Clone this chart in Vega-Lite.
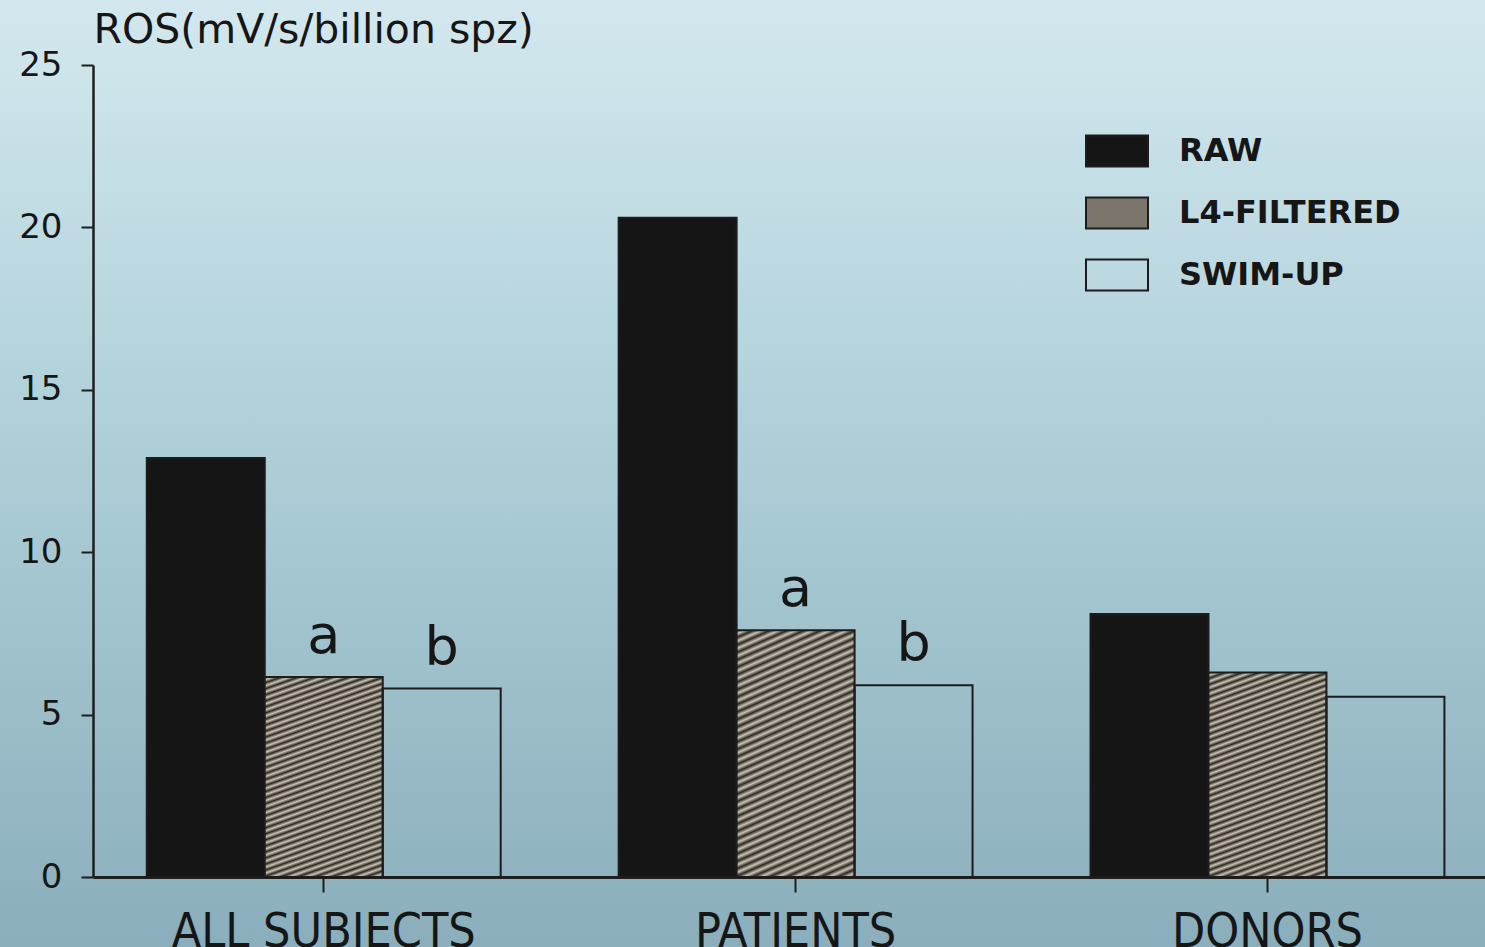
{
  "$schema": "https://vega.github.io/schema/vega-lite/v6.json",
  "width": 1485,
  "height": 947,
  "autosize": {"type": "none"},
  "padding": 0,
  "background": "#a9cad4",
  "view": {
    "fill": {"gradient": "linear", "x1": 0, "y1": 0, "x2": 0, "y2": 1, "stops": [
      {"offset": 0, "color": "#d3e8ee"},
      {"offset": 0.45, "color": "#afd0d9"},
      {"offset": 1, "color": "#8aaebb"}
    ]},
    "stroke": null
  },
  "config": {
    "legend": {
      "orient": "none", "legendX": 1085, "legendY": 119, "title": null, "padding": 0,
      "symbolType": "M-1,-0.5H1V0.5H-1Z", "symbolSize": 3844, "symbolStrokeWidth": 2,
      "labelFont": "DejaVu Sans", "labelFontSize": 32, "labelFontWeight": "bold",
      "labelColor": "#161616", "labelOffset": 30, "rowPadding": 10, "labelLimit": 0
    }
  },
  "data": {"values": [
    {"group": "ALL SUBJECTS", "series": "RAW", "value": 12.9, "sig": ""},
    {"group": "ALL SUBJECTS", "series": "L4-FILTERED", "value": 6.16, "sig": "a"},
    {"group": "ALL SUBJECTS", "series": "SWIM-UP", "value": 5.8, "sig": "b"},
    {"group": "PATIENTS", "series": "RAW", "value": 20.3, "sig": ""},
    {"group": "PATIENTS", "series": "L4-FILTERED", "value": 7.6, "sig": "a"},
    {"group": "PATIENTS", "series": "SWIM-UP", "value": 5.9, "sig": "b"},
    {"group": "DONORS", "series": "RAW", "value": 8.1, "sig": ""},
    {"group": "DONORS", "series": "L4-FILTERED", "value": 6.3, "sig": ""},
    {"group": "DONORS", "series": "SWIM-UP", "value": 5.55, "sig": ""}
  ]},
  "encoding": {
    "x": {
      "field": "group", "type": "nominal",
      "sort": ["ALL SUBJECTS", "PATIENTS", "DONORS"],
      "scale": {"range": [93, 1485], "paddingInner": 0.25, "paddingOuter": 0.1, "align": 0.57},
      "axis": {
        "orient": "bottom", "offset": -70, "title": null,
        "domainWidth": 3, "domainColor": "#1e1e1e",
        "tickColor": "#1e1e1e", "tickSize": 15, "tickWidth": 2,
        "labelFont": "Liberation Sans Narrow, DejaVu Sans Condensed, Arial Narrow, sans-serif",
        "labelFontSize": 48, "labelColor": "#161616", "labelPadding": 16, "labelAngle": 0,
        "labelLimit": 0
      }
    },
    "xOffset": {
      "field": "series", "type": "nominal",
      "sort": ["RAW", "L4-FILTERED", "SWIM-UP"],
      "scale": {"paddingInner": 0, "paddingOuter": 0}
    },
    "y": {
      "field": "value", "type": "quantitative",
      "scale": {"domain": [0, 25], "range": [877, 65], "nice": false},
      "axis": {
        "orient": "left", "offset": -93, "values": [0, 5, 10, 15, 20, 25], "grid": false,
        "domainWidth": 2.5, "domainColor": "#1e1e1e",
        "tickColor": "#1e1e1e", "tickSize": 12, "tickWidth": 2,
        "labelFont": "DejaVu Sans", "labelFontSize": 34, "labelColor": "#161616", "labelPadding": 19,
        "title": "ROS(mV/s/billion spz)", "titleAngle": 0, "titleAlign": "left", "titleBaseline": "middle",
        "titleX": 0, "titleY": 30, "titleFont": "DejaVu Sans", "titleFontSize": 41,
        "titleFontWeight": "normal", "titleColor": "#161616", "titleLimit": 0
      }
    }
  },
  "layer": [
    {
      "mark": {"type": "bar", "strokeWidth": 2},
      "encoding": {
        "stroke": {
          "field": "series", "type": "nominal",
          "sort": ["RAW", "L4-FILTERED", "SWIM-UP"],
          "scale": {"domain": ["RAW", "L4-FILTERED", "SWIM-UP"], "range": ["#1c1c1c", "#1c1c1c", "#1c1c1c"]}
        },
        "fill": {
          "field": "series", "type": "nominal",
          "sort": ["RAW", "L4-FILTERED", "SWIM-UP"],
          "scale": {"domain": ["RAW", "L4-FILTERED", "SWIM-UP"], "range": ["#151515", "#7b756b", "transparent"]},
          "condition": {
            "test": "datum.series === 'L4-FILTERED'",
            "value": {"gradient": "linear", "x1": 0, "y1": 0, "x2": 0.242, "y2": 1.158, "stops": [
              {"offset": 0, "color": "#2a2825"}, {"offset": 0.0125, "color": "#cdc3b1"},
              {"offset": 0.025, "color": "#2a2825"}, {"offset": 0.0375, "color": "#cdc3b1"},
              {"offset": 0.05, "color": "#2a2825"}, {"offset": 0.0625, "color": "#cdc3b1"},
              {"offset": 0.075, "color": "#2a2825"}, {"offset": 0.0875, "color": "#cdc3b1"},
              {"offset": 0.1, "color": "#2a2825"}, {"offset": 0.1125, "color": "#cdc3b1"},
              {"offset": 0.125, "color": "#2a2825"}, {"offset": 0.1375, "color": "#cdc3b1"},
              {"offset": 0.15, "color": "#2a2825"}, {"offset": 0.1625, "color": "#cdc3b1"},
              {"offset": 0.175, "color": "#2a2825"}, {"offset": 0.1875, "color": "#cdc3b1"},
              {"offset": 0.2, "color": "#2a2825"}, {"offset": 0.2125, "color": "#cdc3b1"},
              {"offset": 0.225, "color": "#2a2825"}, {"offset": 0.2375, "color": "#cdc3b1"},
              {"offset": 0.25, "color": "#2a2825"}, {"offset": 0.2625, "color": "#cdc3b1"},
              {"offset": 0.275, "color": "#2a2825"}, {"offset": 0.2875, "color": "#cdc3b1"},
              {"offset": 0.3, "color": "#2a2825"}, {"offset": 0.3125, "color": "#cdc3b1"},
              {"offset": 0.325, "color": "#2a2825"}, {"offset": 0.3375, "color": "#cdc3b1"},
              {"offset": 0.35, "color": "#2a2825"}, {"offset": 0.3625, "color": "#cdc3b1"},
              {"offset": 0.375, "color": "#2a2825"}, {"offset": 0.3875, "color": "#cdc3b1"},
              {"offset": 0.4, "color": "#2a2825"}, {"offset": 0.4125, "color": "#cdc3b1"},
              {"offset": 0.425, "color": "#2a2825"}, {"offset": 0.4375, "color": "#cdc3b1"},
              {"offset": 0.45, "color": "#2a2825"}, {"offset": 0.4625, "color": "#cdc3b1"},
              {"offset": 0.475, "color": "#2a2825"}, {"offset": 0.4875, "color": "#cdc3b1"},
              {"offset": 0.5, "color": "#2a2825"}, {"offset": 0.5125, "color": "#cdc3b1"},
              {"offset": 0.525, "color": "#2a2825"}, {"offset": 0.5375, "color": "#cdc3b1"},
              {"offset": 0.55, "color": "#2a2825"}, {"offset": 0.5625, "color": "#cdc3b1"},
              {"offset": 0.575, "color": "#2a2825"}, {"offset": 0.5875, "color": "#cdc3b1"},
              {"offset": 0.6, "color": "#2a2825"}, {"offset": 0.6125, "color": "#cdc3b1"},
              {"offset": 0.625, "color": "#2a2825"}, {"offset": 0.6375, "color": "#cdc3b1"},
              {"offset": 0.65, "color": "#2a2825"}, {"offset": 0.6625, "color": "#cdc3b1"},
              {"offset": 0.675, "color": "#2a2825"}, {"offset": 0.6875, "color": "#cdc3b1"},
              {"offset": 0.7, "color": "#2a2825"}, {"offset": 0.7125, "color": "#cdc3b1"},
              {"offset": 0.725, "color": "#2a2825"}, {"offset": 0.7375, "color": "#cdc3b1"},
              {"offset": 0.75, "color": "#2a2825"}, {"offset": 0.7625, "color": "#cdc3b1"},
              {"offset": 0.775, "color": "#2a2825"}, {"offset": 0.7875, "color": "#cdc3b1"},
              {"offset": 0.8, "color": "#2a2825"}, {"offset": 0.8125, "color": "#cdc3b1"},
              {"offset": 0.825, "color": "#2a2825"}, {"offset": 0.8375, "color": "#cdc3b1"},
              {"offset": 0.85, "color": "#2a2825"}, {"offset": 0.8625, "color": "#cdc3b1"},
              {"offset": 0.875, "color": "#2a2825"}, {"offset": 0.8875, "color": "#cdc3b1"},
              {"offset": 0.9, "color": "#2a2825"}, {"offset": 0.9125, "color": "#cdc3b1"},
              {"offset": 0.925, "color": "#2a2825"}, {"offset": 0.9375, "color": "#cdc3b1"},
              {"offset": 0.95, "color": "#2a2825"}, {"offset": 0.9625, "color": "#cdc3b1"},
              {"offset": 0.975, "color": "#2a2825"}, {"offset": 0.9875, "color": "#cdc3b1"},
              {"offset": 1, "color": "#2a2825"}
            ]}
          }
        }
      }
    },
    {
      "transform": [{"filter": "datum.sig !== ''"}],
      "mark": {"type": "text", "font": "DejaVu Sans", "fontSize": 54, "baseline": "alphabetic", "dy": -24, "fill": "#161616"},
      "encoding": {"text": {"field": "sig", "type": "nominal"}}
    }
  ]
}
